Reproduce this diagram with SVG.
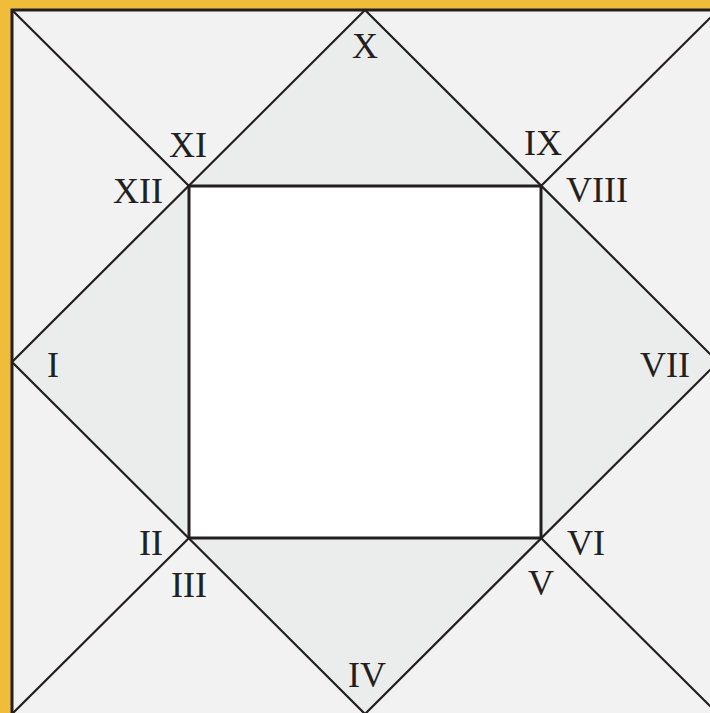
<svg xmlns="http://www.w3.org/2000/svg" width="710" height="713" viewBox="0 0 710 713">
<style>
.ln{stroke:#231f20;stroke-width:2.2;fill:none}
.lbl{font-family:"Liberation Serif","Times New Roman",serif;font-size:36px;fill:#231f20;text-anchor:middle}
</style>
<rect x="0" y="0" width="710" height="713" fill="#f0bd3b"/>
<g id="chart">
<rect x="12" y="10" width="720" height="720" fill="#f2f2f2" stroke="#231f20" stroke-width="3"/>
<polygon points="365,10 718,362 365,714 12,362" fill="#ebeded"/>
<rect id="center" x="189" y="186" width="352" height="352" fill="#ffffff"/>
</g>
<g id="connectors">
<line class="ln" x1="12" y1="10" x2="189" y2="186"/>
<line class="ln" x1="541" y1="538" x2="718" y2="714"/>
<line class="ln" x1="718" y1="10" x2="541" y2="186"/>
<line class="ln" x1="189" y1="538" x2="12" y2="714"/>
<polygon class="ln" points="365,10 718,362 365,714 12,362"/>
<rect x="189" y="186" width="352" height="352" fill="none" stroke="#231f20" stroke-width="3"/>
</g>
<g id="house1"><text class="lbl" x="53" y="377">I</text></g>
<g id="house2"><text class="lbl" x="151" y="555">II</text></g>
<g id="house3"><text class="lbl" x="189" y="597">III</text></g>
<g id="house4"><text class="lbl" x="367" y="687">IV</text></g>
<g id="house5"><text class="lbl" x="541" y="595">V</text></g>
<g id="house6"><text class="lbl" x="586" y="555">VI</text></g>
<g id="house7"><text class="lbl" x="665" y="377">VII</text></g>
<g id="house8"><text class="lbl" x="597" y="202">VIII</text></g>
<g id="house9"><text class="lbl" x="543" y="155">IX</text></g>
<g id="house10"><text class="lbl" x="365" y="58">X</text></g>
<g id="house11"><text class="lbl" x="188" y="157">XI</text></g>
<g id="house12"><text class="lbl" x="138" y="203">XII</text></g>
</svg>
